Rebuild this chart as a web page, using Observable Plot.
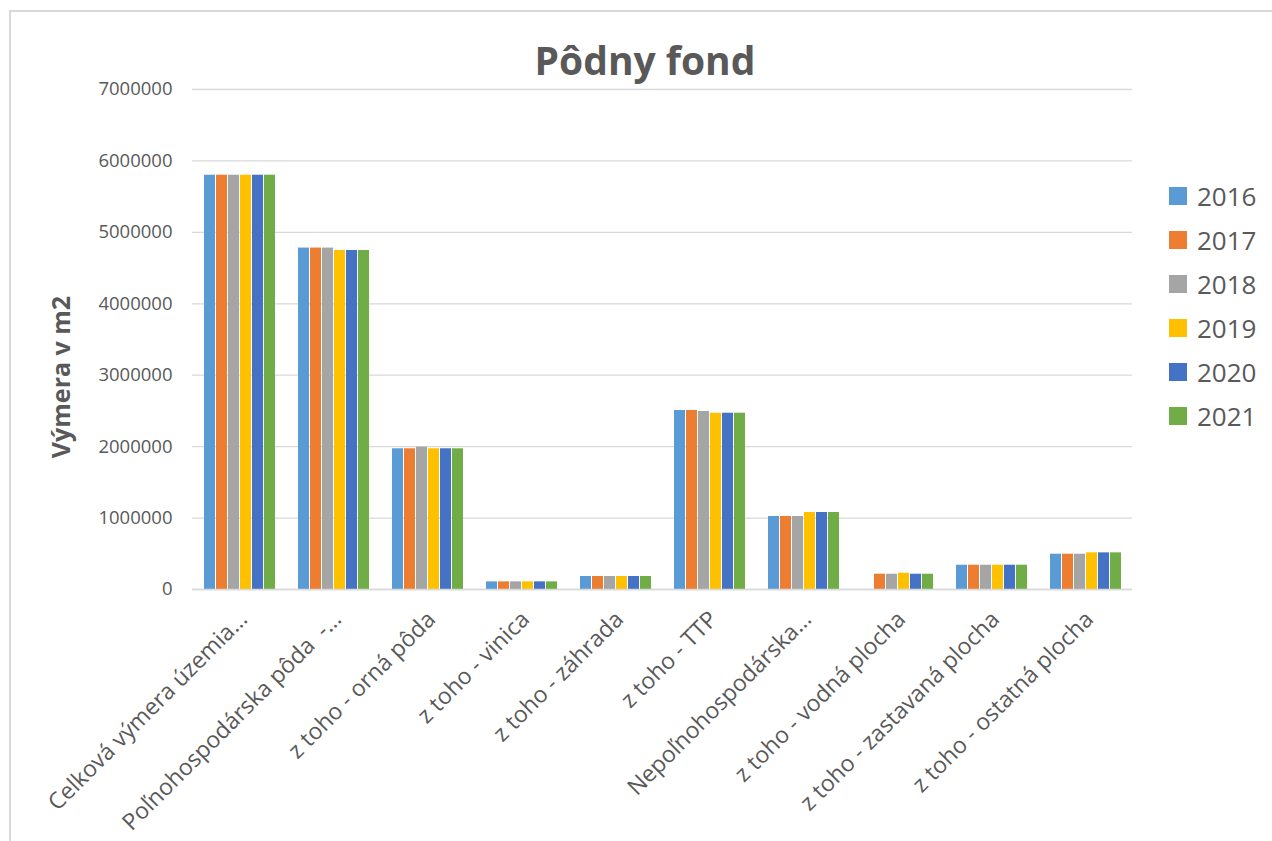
<!DOCTYPE html>
<html>
<head>
<meta charset="utf-8">
<script src="https://cdn.jsdelivr.net/npm/d3@7"></script>
<script src="https://cdn.jsdelivr.net/npm/@observablehq/plot@0.6"></script>
<style>
  html, body { margin: 0; padding: 0; background: #fff; }
  #wrap { position: relative; width: 1272px; height: 841px; overflow: hidden; font-family: "Open Sans", sans-serif; }
  #frame { position: absolute; left: 9px; top: 10px; width: 1300px; height: 900px; border: 2px solid #d9d9d9; box-sizing: border-box; }
  #chart { position: absolute; left: 0; top: 0; }
  #title { position: absolute; left: 0; width: 1290px; top: 33px; text-align: center; font-size: 39px; font-weight: bold; color: #595959; }
  #ylabel { position: absolute; left: 60px; top: 377px; transform: translate(-50%, -50%) rotate(-90deg); font-size: 25px; font-weight: bold; color: #595959; white-space: nowrap; }
  #legend { position: absolute; left: 1169px; top: 174px; }
  .li { display: flex; align-items: center; height: 44px; font-size: 26px; color: #595959; }
  .sw { width: 18px; height: 18px; margin-right: 10px; }
</style>
</head>
<body>
<div id="wrap">
  <div id="frame"></div>
  <div id="chart"></div>
  <div id="title">Pôdny fond</div>
  <div id="ylabel">Výmera v m2</div>
  <div id="legend"></div>
</div>
<script>
const categories = [
  "Celková výmera územia…",
  "Poľnohospodárska pôda  -…",
  "z toho - orná pôda",
  "z toho - vinica",
  "z toho - záhrada",
  "z toho - TTP",
  "Nepoľnohospodárska…",
  "z toho - vodná plocha",
  "z toho - zastavaná plocha",
  "z toho - ostatná plocha"
];
const years = ["2016", "2017", "2018", "2019", "2020", "2021"];
const colors = ["#5B9BD5", "#ED7D31", "#A5A5A5", "#FFC000", "#4472C4", "#70AD47"];

const v2016 = [5800000, 4780000, 1970000, 107000, 182000, 2506000, 1022000, null,   340000, 494000];
const v2017 = [5800000, 4780000, 1970000, 107000, 182000, 2506000, 1022000, 214000, 340000, 494000];
const v2018 = [5800000, 4780000, 1993000, 107000, 182000, 2492000, 1022000, 214000, 340000, 494000];
const v2019 = [5800000, 4746000, 1970000, 107000, 182000, 2468000, 1078000, 228000, 340000, 513000];
const v2020 = [5800000, 4746000, 1970000, 107000, 182000, 2468000, 1078000, 214000, 340000, 513000];
const v2021 = [5800000, 4746000, 1970000, 107000, 182000, 2468000, 1078000, 214000, 340000, 513000];

const yTicks = [0, 1000000, 2000000, 3000000, 4000000, 5000000, 6000000, 7000000];

const series = [v2016, v2017, v2018, v2019, v2020, v2021];
const data = [];
series.forEach((vals, i) => {
  vals.forEach((v, j) => {
    if (v != null) data.push({cat: categories[j], year: years[i], value: v});
  });
});

const chart = Plot.plot({
  width: 1272,
  height: 841,
  marginLeft: 190,
  marginRight: 139,
  marginTop: 89,
  marginBottom: 252,
  style: {fontFamily: "'Open Sans', sans-serif", color: "#595959", background: "transparent"},
  fx: {domain: categories, padding: 0, label: null},
  x: {domain: years, axis: null, paddingInner: 0.12, paddingOuter: 0.76},
  y: {domain: [0, 7000000], axis: null},
  color: {domain: years, range: colors},
  marks: [
    Plot.gridY(yTicks, {stroke: "#d9d9d9", strokeOpacity: 1, strokeWidth: 1.3}),
    Plot.axisY(yTicks, {tickSize: 0, tickPadding: 20, fontSize: 18.5, tickFormat: d => String(d), label: null, fill: "#595959"}),
    Plot.axisFx({anchor: "bottom", tickSize: 0, tickRotate: -45, tickPadding: 26, dx: 4, fontSize: 23, label: null, fill: "#595959"}),
    Plot.barY(data, {fx: "cat", x: "year", y: "value", fill: "year"}),
    Plot.ruleY([0], {stroke: "#d9d9d9", strokeWidth: 1.5})
  ]
});
document.getElementById("chart").appendChild(chart);

const legend = document.getElementById("legend");
years.forEach((y, i) => {
  const row = document.createElement("div");
  row.className = "li";
  const sw = document.createElement("div");
  sw.className = "sw";
  sw.style.background = colors[i];
  const t = document.createElement("span");
  t.textContent = y;
  row.appendChild(sw);
  row.appendChild(t);
  legend.appendChild(row);
});
</script>
</body>
</html>
